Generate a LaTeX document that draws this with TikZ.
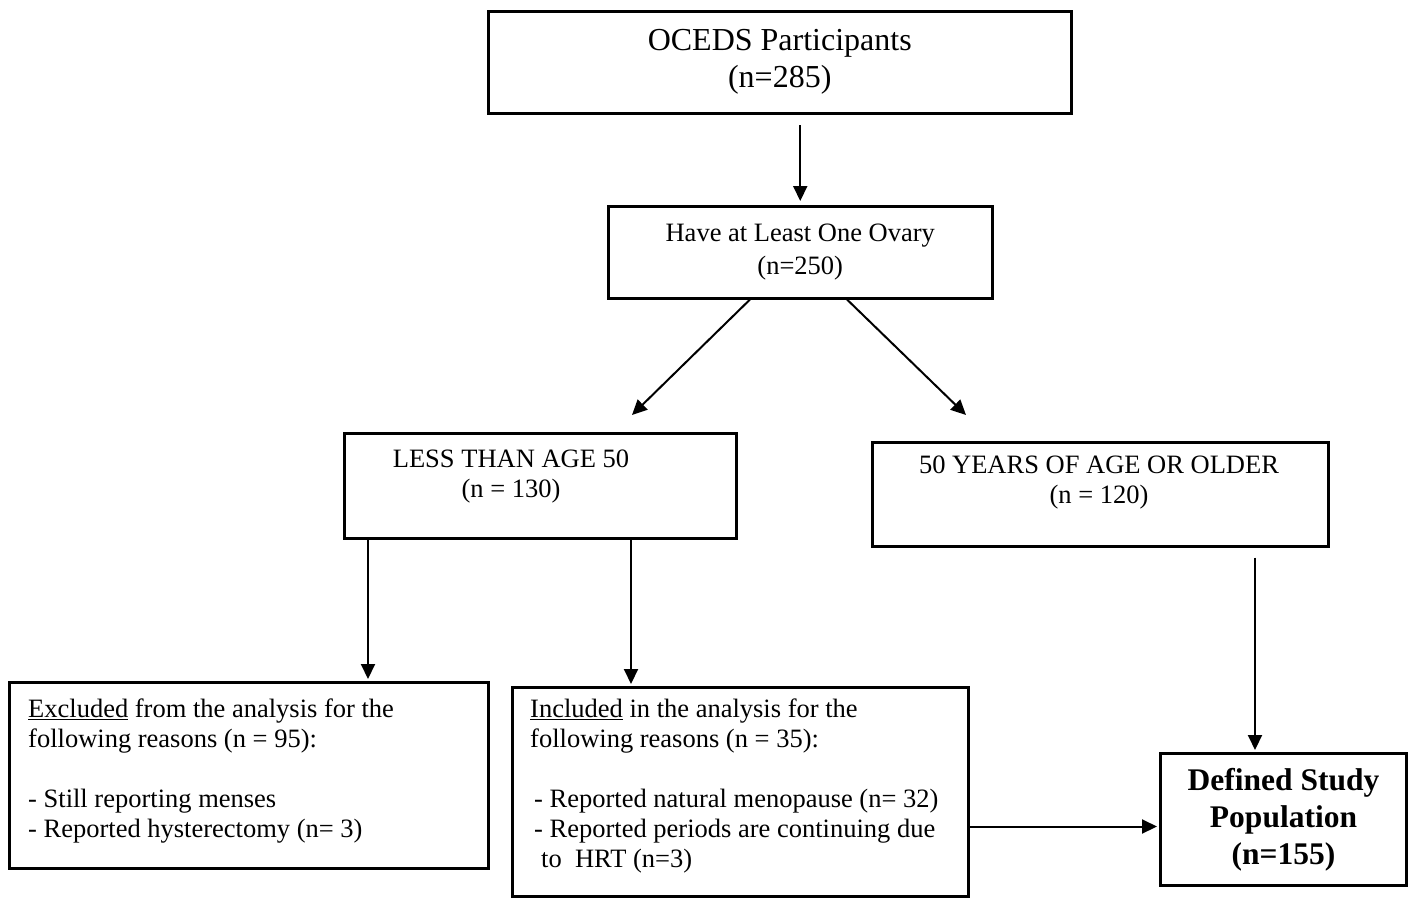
\documentclass[tikz,border=0pt]{standalone}
\usepackage{fontspec}
\setmainfont{Liberation Serif}
\usetikzlibrary{arrows.meta}
\begin{document}
\begin{tikzpicture}[x=1pt,y=-1pt,
  box/.style={draw, line width=2.5pt, inner sep=0pt, anchor=north west, align=center},
  arr/.style={line width=2pt, -{Triangle[length=15pt,width=14pt]}},
  txt/.style={font=\fontsize{26.5}{30}\selectfont, align=center, inner sep=0pt},
  ltxt/.style={font=\fontsize{26.5}{30}\selectfont, align=left, inner sep=0pt, anchor=north west}]
\useasboundingbox (0,0) rectangle (1411,897);
% boxes
\node[box, minimum width=583pt, minimum height=102pt, font=\fontsize{32}{37}\selectfont] (ocb) at (487,10) {OCEDS Participants\\(n=285)};
\node[box, minimum width=384pt, minimum height=92pt, font=\fontsize{26.5}{33}\selectfont] (ovb) at (607,205) {Have at Least One Ovary\\(n=250)};
\node[box, minimum width=392pt, minimum height=105pt] (lessb) at (343,432) {};
\node[txt] (lesst) at (511,477) {LESS THAN AGE 50\\(n = 130)};
\node[box, minimum width=456pt, minimum height=104pt] (fb) at (871,441) {};
\node[txt] (ft) at (1099,483) {50 YEARS OF AGE OR OLDER\\(n = 120)};
\node[box, minimum width=479pt, minimum height=186pt] (exb) at (8,681) {};
\node[ltxt] (ext) at (28,698.6) {\underline{Excluded} from the analysis for the\\following reasons (n = 95):\\[30pt]- Still reporting menses\\- Reported hysterectomy (n= 3)};
\node[box, minimum width=456pt, minimum height=209pt] (inb) at (511,686) {};
\node[ltxt] (int) at (530,698.6) {\underline{Included} in the analysis for the\\following reasons (n = 35):\\[30pt]\hspace{4pt}- Reported natural menopause (n= 32)\\\hspace{4pt}- Reported periods are continuing due\\\hspace{11pt}to\ \ HRT (n=3)};
\node[box, line width=3pt, minimum width=246pt, minimum height=132pt, font=\bfseries\fontsize{31.5}{37}\selectfont] (defb) at (1159,752) {Defined Study\\Population\\(n=155)};
% connectors
\draw[arr] ([yshift=80pt]ovb.north) -- ([yshift=4pt]ovb.north);
\coordinate (dl) at (632,415);
\coordinate (dr) at (966,415);
\draw[arr] ([xshift=143pt]ovb.south west) -- (dl);
\draw[arr] ([xshift=240pt]ovb.south west) -- (dr);
\draw[arr] ([xshift=25pt]lessb.south west) -- ([xshift=25pt,yshift=2pt]lessb.south west |- exb.north);
\draw[arr] ([xshift=288pt]lessb.south west) -- ([xshift=288pt,yshift=2pt]lessb.south west |- inb.north);
\draw[arr] ([xshift=384pt,yshift=-10pt]fb.south west) -- ([xshift=384pt,yshift=2pt]fb.south west |- defb.north);
\coordinate (dfw) at ([yshift=-7pt,xshift=-2pt]defb.west);
\draw[arr] (inb.east |- dfw) -- (dfw);
\end{tikzpicture}
\end{document}
